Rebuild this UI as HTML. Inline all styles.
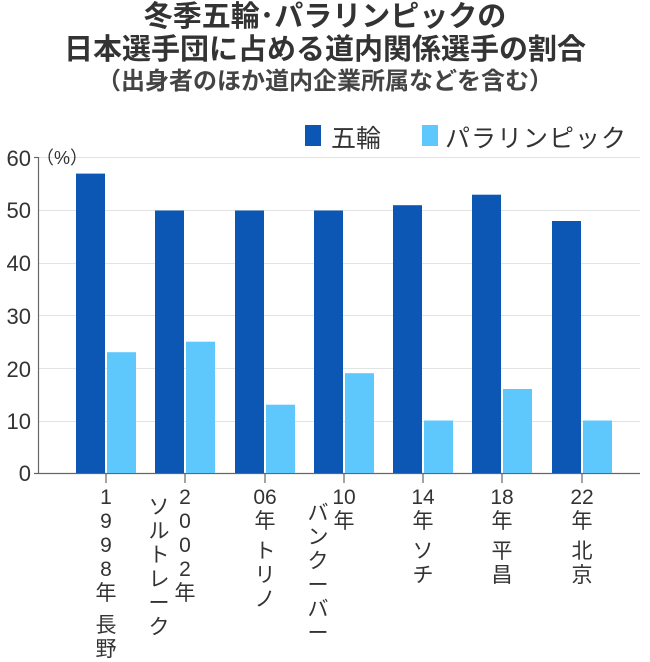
<!DOCTYPE html><html><head><meta charset="utf-8"><style>
body{margin:0;width:650px;height:655px;background:#fff;font-family:"Liberation Sans","Noto Sans CJK JP",sans-serif;color:#333;position:relative;overflow:hidden}
.t{position:absolute;left:0;width:650px;text-align:center;font-weight:bold;white-space:nowrap}
.a{position:absolute;white-space:nowrap}
.col{position:absolute;width:30px;text-align:center;font-size:21px;line-height:24px}
</style></head><body>
<div class="t" style="top:0px;font-size:29px;line-height:34px">冬季五輪･パラリンピックの</div>
<div class="t" style="top:33px;font-size:29px;line-height:34px">日本選手団に占める道内関係選手の割合</div>
<div class="t" style="top:67px;font-size:24px;line-height:30px;color:#444">（出身者のほか道内企業所属などを含む）</div>
<div class="a" style="left:305px;top:125px;width:16px;height:21px;background:#0b57b3"></div>
<div class="a" style="left:331px;top:119px;font-size:25px">五輪</div>
<div class="a" style="left:422px;top:125px;width:16px;height:21px;background:#5ec8fc"></div>
<div class="a" style="left:445px;top:119px;font-size:25px;letter-spacing:1px">パラリンピック</div>
<svg class="a" style="left:0;top:0" width="650" height="655">
<g stroke="#e3e3e3" stroke-width="1">
<line x1="38" x2="640" y1="157.5" y2="157.5"/><line x1="38" x2="640" y1="210.5" y2="210.5"/><line x1="38" x2="640" y1="263.5" y2="263.5"/><line x1="38" x2="640" y1="315.5" y2="315.5"/><line x1="38" x2="640" y1="368.5" y2="368.5"/><line x1="38" x2="640" y1="421.5" y2="421.5"/></g>
<g stroke="#666" stroke-width="1.2"><line x1="38.5" x2="38.5" y1="157" y2="474"/><line x1="34" x2="640" y1="473.5" y2="473.5"/>
<line x1="34" x2="38" y1="157.5" y2="157.5"/>
<line x1="106" x2="106" y1="473" y2="483"/><line x1="185" x2="185" y1="473" y2="483"/><line x1="265" x2="265" y1="473" y2="483"/><line x1="344" x2="344" y1="473" y2="483"/><line x1="423" x2="423" y1="473" y2="483"/><line x1="502" x2="502" y1="473" y2="483"/><line x1="582" x2="582" y1="473" y2="483"/></g>
<g fill="#0b57b3">
<rect x="76" y="173.6" width="29" height="299.4"/><rect x="155" y="210.5" width="29" height="262.5"/><rect x="235" y="210.5" width="29" height="262.5"/><rect x="314" y="210.5" width="29" height="262.5"/><rect x="393" y="205.2" width="29" height="267.8"/><rect x="472" y="194.7" width="29" height="278.3"/><rect x="552" y="221" width="29" height="252"/></g>
<g fill="#5ec8fc">
<rect x="107" y="352.2" width="29" height="120.8"/><rect x="186" y="341.7" width="29" height="131.3"/><rect x="266" y="404.7" width="29" height="68.3"/><rect x="345" y="373.2" width="29" height="99.8"/><rect x="424" y="420.5" width="29" height="52.5"/><rect x="503" y="389" width="29" height="84"/><rect x="583" y="420.5" width="29" height="52.5"/></g>
<g font-size="22" fill="#333" text-anchor="end" font-family="Liberation Sans, sans-serif">
<text x="31" y="166">60</text><text x="31" y="218">50</text><text x="31" y="271">40</text><text x="31" y="324">30</text><text x="31" y="377">20</text><text x="31" y="429">10</text><text x="31" y="481">0</text></g>
<text x="36" y="164" font-size="18" fill="#333" font-family="Liberation Sans, Noto Sans CJK JP, sans-serif">（%）</text>
</svg>
<div class="col" style="left:91px;top:486px">1<br>9<br>9<br>8<br>年<br><span style="display:block;height:8px"></span>長<br>野</div>
<div class="col" style="left:170px;top:486px">2<br>0<br>0<br>2<br>年</div>
<div class="col" style="left:144px;top:496px">ソ<br>ル<br>ト<br>レ<br>ー<br>ク</div>
<div class="col" style="left:250px;top:486px">06<br>年<br><span style="display:block;height:6px"></span>ト<br>リ<br>ノ</div>
<div class="col" style="left:329px;top:486px">10<br>年</div>
<div class="col" style="left:303px;top:502px">バ<br>ン<br>ク<br>ー<br>バ<br>ー</div>
<div class="col" style="left:408px;top:486px">14<br>年<br><span style="display:block;height:6px"></span>ソ<br>チ</div>
<div class="col" style="left:487px;top:486px">18<br>年<br><span style="display:block;height:6px"></span>平<br>昌</div>
<div class="col" style="left:567px;top:486px">22<br>年<br><span style="display:block;height:6px"></span>北<br>京</div>
</body></html>
